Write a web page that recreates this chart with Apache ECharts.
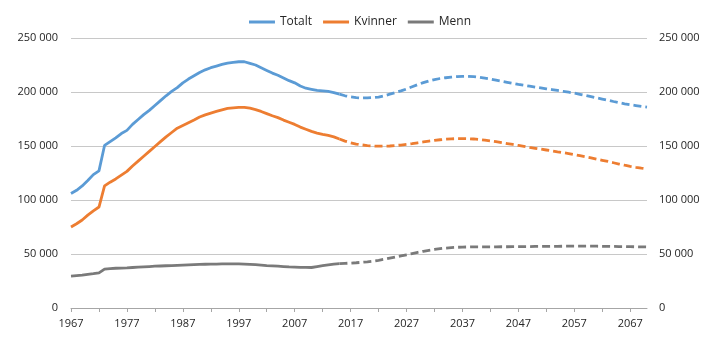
<!DOCTYPE html>
<html>
<head>
<meta charset="utf-8">
<script src="https://cdn.jsdelivr.net/npm/echarts@6/dist/echarts.min.js"></script>
<style>html,body{margin:0;padding:0;background:#fff}#c{width:720px;height:341px}</style>
</head>
<body>
<div id="c"></div>
<script>
// Years 1967..2070
var startYear = 1967;
var lastHistoric = 2015;
var years = [];
for (var y = 1967; y <= 2070; y++) years.push(String(y));

var yTicks = [0, 50000, 100000, 150000, 200000, 250000];

// values in thousands
var totalt = [
106,109,113,118,123.5,127,150.5,154,157.5,161.5,
164.5,170,174.5,179,183,187.5,192,196.5,200.5,204,
208.5,212,215,218,220.5,222.5,224,225.5,226.8,227.5,
228,228,226.5,225,222.5,220,217.5,215.5,213,210.5,
208.5,205.5,203.5,202.5,201.5,201,200.5,199.5,198,196.5,
195.5,194.8,194.5,194.6,194.8,195.3,196.5,198,199.5,201,
202.8,204.8,206.8,208.7,210.2,211.5,212.5,213.2,213.8,214.2,
214.4,214.5,214.2,213.6,212.8,212,211,210,209,208,
207,206.2,205.4,204.6,203.8,203,202.2,201.4,200.6,199.8,
199,197.9,196.8,195.7,194.6,193.5,192.4,191.2,190.1,189,
188.2,187.4,186.6,186
];
var kvinner = [
75,78,81.5,86,90,93.5,113,116.5,119.5,123,
126.5,131.5,136,140.5,145,149.5,154,158.5,162.5,166.5,
169,171.5,174,176.8,178.8,180.5,182,183.5,184.8,185.3,
185.7,185.8,185,183.7,182,180,178,176.3,174,172,
170,167.5,165.5,163.5,162,160.8,159.8,158.5,156.5,154.5,
153,151.8,151,150.4,150,149.8,149.8,150,150.4,150.9,
151.5,152.2,153,153.8,154.5,155.2,155.8,156.3,156.6,156.8,
156.9,156.8,156.5,156,155.4,154.7,154,153.2,152.3,151.4,
150.5,149.6,148.7,147.9,147.1,146.3,145.5,144.6,143.8,143,
142,141,140,139,137.9,136.8,135.7,134.5,133.3,132.2,
131.2,130.3,129.5,128.8
];
var menn = [
29.5,30,30.5,31.2,31.8,32.5,36,36.5,36.8,37,
37.2,37.5,37.8,38.1,38.4,38.7,38.9,39.1,39.3,39.5,
39.7,39.9,40.1,40.3,40.5,40.6,40.7,40.8,40.8,40.8,
40.8,40.7,40.4,40.1,39.7,39.3,39,38.7,38.4,38.1,
37.9,37.7,37.6,37.5,38.4,39.3,40,40.6,41,41.3,
41.6,41.9,42.3,42.8,43.4,44.2,45.1,46.1,47.1,48.2,
49.3,50.4,51.5,52.5,53.4,54.2,54.9,55.5,55.9,56.2,
56.4,56.5,56.6,56.6,56.6,56.6,56.6,56.7,56.7,56.8,
56.8,56.9,56.9,57,57,57,57.1,57.1,57.2,57.2,
57.2,57.2,57.2,57.2,57.2,57.1,57.1,57,56.9,56.9,
56.8,56.7,56.6,56.5
];

var seriesDefs = [
  {name: 'Totalt', data: totalt, color: '#5B9BD5'},
  {name: 'Kvinner', data: kvinner, color: '#ED7D31'},
  {name: 'Menn', data: menn, color: '#7A7A7A'}
];

function part(arr, historic) {
  return arr.map(function (v, i) {
    var yr = startYear + i;
    if (historic) return yr <= lastHistoric ? v * 1000 : null;
    return yr >= lastHistoric ? v * 1000 : null;
  });
}

var series = [];
seriesDefs.forEach(function (s) {
  series.push({
    name: s.name, type: 'line', data: part(s.data, true), showSymbol: false, symbol: 'none',
    lineStyle: {color: s.color, width: 2.8, type: 'solid'}, itemStyle: {color: s.color},
    smooth: false, connectNulls: false, animation: false
  });
  series.push({
    name: s.name, type: 'line', data: part(s.data, false), showSymbol: false, symbol: 'none',
    lineStyle: {color: s.color, width: 2.8, type: [8, 4]}, itemStyle: {color: s.color},
    smooth: false, connectNulls: false, animation: false
  });
});

function fmt(v) {
  var s = String(Math.round(v));
  return s.replace(/\B(?=(\d{3})+(?!\d))/g, ' ');
}

var font = 'Open Sans';
var chart = echarts.init(document.getElementById('c'), null, {renderer: 'canvas'});
chart.setOption({
  animation: false,
  backgroundColor: '#fff',
  legend: {
    data: seriesDefs.map(function (s) { return s.name; }),
    top: 11, left: 'center',
    icon: 'rect', itemWidth: 26, itemHeight: 3, itemGap: 11,
    textStyle: {fontFamily: font, fontSize: 12, color: '#262626'}
  },
  grid: {left: 71, right: 73, top: 38, bottom: 33, containLabel: false},
  xAxis: {
    type: 'category', data: years, boundaryGap: false,
    axisLine: {lineStyle: {color: '#a6a6a6', width: 1}},
    axisTick: {interval: 4, length: 4, lineStyle: {color: '#a6a6a6'}},
    axisLabel: {interval: 9, margin: 10, fontFamily: font, fontSize: 11, color: '#262626'},
    splitLine: {show: false}
  },
  yAxis: [
    {
      type: 'value', min: 0, max: 250000, interval: 50000, position: 'left',
      axisLine: {show: false}, axisTick: {show: false},
      axisLabel: {margin: 13, fontFamily: font, fontSize: 11, color: '#262626', formatter: fmt},
      splitLine: {lineStyle: {color: '#c8c8c8', width: 1}}
    },
    {
      type: 'value', min: 0, max: 250000, interval: 50000, position: 'right',
      axisLine: {show: false}, axisTick: {show: false},
      axisLabel: {margin: 12, fontFamily: font, fontSize: 11, color: '#262626', formatter: fmt},
      splitLine: {show: false}
    }
  ],
  series: series
});
</script>
</body>
</html>
